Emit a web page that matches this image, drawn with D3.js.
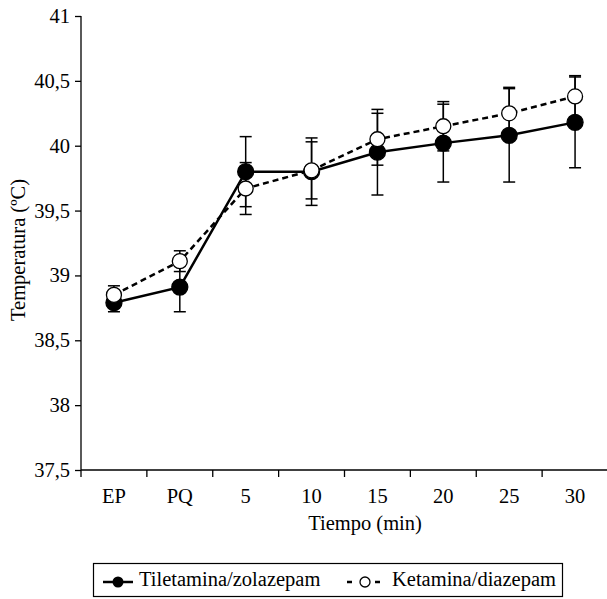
<!DOCTYPE html>
<html>
<head>
<meta charset="utf-8">
<script src="https://cdn.jsdelivr.net/npm/d3@7"></script>
<style>
  html, body { margin: 0; padding: 0; background: #fff; }
  svg { display: block; }
</style>
</head>
<body>
<svg id="chart" width="607" height="599"></svg>
<script>
const categories = ["EP", "PQ", "5", "10", "15", "20", "25", "30"];
const tileValues = [38.79, 38.91, 39.80, 39.80, 39.95, 40.02, 40.08, 40.18];
const tileErrors = [0.07, 0.19, 0.27, 0.26, 0.33, 0.30, 0.36, 0.35];
const ketaValues = [38.85, 39.11, 39.67, 39.81, 40.05, 40.15, 40.25, 40.38];
const ketaErrors = [0.07, 0.08, 0.20, 0.22, 0.20, 0.19, 0.20, 0.16];
const yTicks = [37.5, 38, 38.5, 39, 39.5, 40, 40.5, 41];
const seriesNames = ["Tiletamina/zolazepam", "Ketamina/diazepam"];

const FONT = "'Liberation Serif', 'Times New Roman', Times, serif";
const FS = 20.5;
const svg = d3.select("#chart");
const mLeft = 81, mRight = 608, mTop = 16, mBottom = 470;

const x = d3.scaleBand().domain(categories).range([mLeft, mRight]).padding(0);
const y = d3.scaleLinear().domain([37.5, 41]).range([mBottom, mTop]);
const fmt = d => String(d).replace(".", ",");

// Y axis
const yAxis = d3.axisLeft(y).tickValues(yTicks).tickFormat(fmt).tickSize(6).tickPadding(5);
const gy = svg.append("g").attr("transform", `translate(${mLeft},0)`).call(yAxis)
  .attr("font-family", FONT).attr("font-size", FS);
gy.select(".domain").attr("stroke", "#000").attr("stroke-width", 1.3).attr("d", `M0,${mTop}V${mBottom}`);
gy.selectAll(".tick line").attr("stroke", "#000").attr("stroke-width", 1.3);
gy.selectAll(".tick text").attr("font-size", FS).attr("font-family", FONT).attr("fill", "#000");

// X axis with ticks at band boundaries
const gx = svg.append("g").attr("transform", `translate(0,${mBottom})`);
gx.append("line").attr("x1", mLeft).attr("x2", mRight).attr("y1", 0).attr("y2", 0)
  .attr("stroke", "#000").attr("stroke-width", 1.3);
const boundaries = categories.map(c => x(c)).concat([mRight]);
gx.selectAll("line.tk").data(boundaries).enter().append("line").attr("class", "tk")
  .attr("x1", d => d).attr("x2", d => d).attr("y1", 0).attr("y2", 7)
  .attr("stroke", "#000").attr("stroke-width", 1.3);
gx.selectAll("text.lab").data(categories).enter().append("text").attr("class", "lab")
  .attr("x", d => x(d) + x.bandwidth() / 2).attr("y", 33)
  .attr("text-anchor", "middle").attr("font-size", FS).attr("font-family", FONT).text(d => d);

// Axis titles
svg.append("text").attr("x", 365).attr("y", 530).attr("text-anchor", "middle")
  .attr("font-size", FS).attr("font-family", FONT).text("Tiempo (min)");
svg.append("text").attr("transform", `translate(25,250) rotate(-90)`)
  .attr("text-anchor", "middle").attr("font-size", FS).attr("font-family", FONT).text("Temperatura (ºC)");

const cx = c => x(c) + x.bandwidth() / 2;

function drawSeries(values, errors) {
  const data = categories.map((c, i) => ({ c, v: values[i], e: errors[i] }));
  const g = svg.append("g");
  const eb = g.selectAll("g.eb").data(data).enter().append("g");
  eb.append("line").attr("x1", d => cx(d.c)).attr("x2", d => cx(d.c))
    .attr("y1", d => y(d.v - d.e)).attr("y2", d => y(d.v + d.e))
    .attr("stroke", "#000").attr("stroke-width", 1.5);
  [1, -1].forEach(s => {
    eb.append("line").attr("x1", d => cx(d.c) - 6).attr("x2", d => cx(d.c) + 6)
      .attr("y1", d => y(d.v + s * d.e)).attr("y2", d => y(d.v + s * d.e))
      .attr("stroke", "#000").attr("stroke-width", 1.5);
  });
  return { g, data };
}

function drawLineMarkers(obj, dashed, filled) {
  const line = d3.line().x(d => cx(d.c)).y(d => y(d.v));
  obj.g.append("path").datum(obj.data).attr("d", line).attr("fill", "none")
    .attr("stroke", "#000").attr("stroke-width", 2.5)
    .attr("stroke-dasharray", dashed ? "6,4" : null);
  obj.g.selectAll("circle").data(obj.data).enter().append("circle")
    .attr("cx", d => cx(d.c)).attr("cy", d => y(d.v)).attr("r", filled ? 8 : 7.5)
    .attr("fill", filled ? "#000" : "#fff").attr("stroke", "#000").attr("stroke-width", 1.3);
}

const s1 = drawSeries(tileValues, tileErrors);
const s2 = drawSeries(ketaValues, ketaErrors);
drawLineMarkers(s1, false, true);
drawLineMarkers(s2, true, false);

// Legend
const lg = svg.append("g");
lg.append("rect").attr("x", 93.5).attr("y", 563.5).attr("width", 469).attr("height", 33)
  .attr("fill", "#fff").attr("stroke", "#000").attr("stroke-width", 1.2);
const ly = 582;
lg.append("line").attr("x1", 103).attr("x2", 133).attr("y1", ly).attr("y2", ly)
  .attr("stroke", "#000").attr("stroke-width", 2.5);
lg.append("circle").attr("cx", 118).attr("cy", ly).attr("r", 5.5).attr("fill", "#000");
lg.append("text").attr("x", 139).attr("y", 586).attr("font-size", FS).attr("font-family", FONT).text(seriesNames[0]);
lg.append("line").attr("x1", 347).attr("x2", 383).attr("y1", ly).attr("y2", ly)
  .attr("stroke", "#000").attr("stroke-width", 2.5).attr("stroke-dasharray", "5,9");
lg.append("circle").attr("cx", 365).attr("cy", ly).attr("r", 5).attr("fill", "#fff")
  .attr("stroke", "#000").attr("stroke-width", 1.3);
lg.append("text").attr("x", 392).attr("y", 586).attr("font-size", FS).attr("font-family", FONT).text(seriesNames[1]);
</script>
</body>
</html>
